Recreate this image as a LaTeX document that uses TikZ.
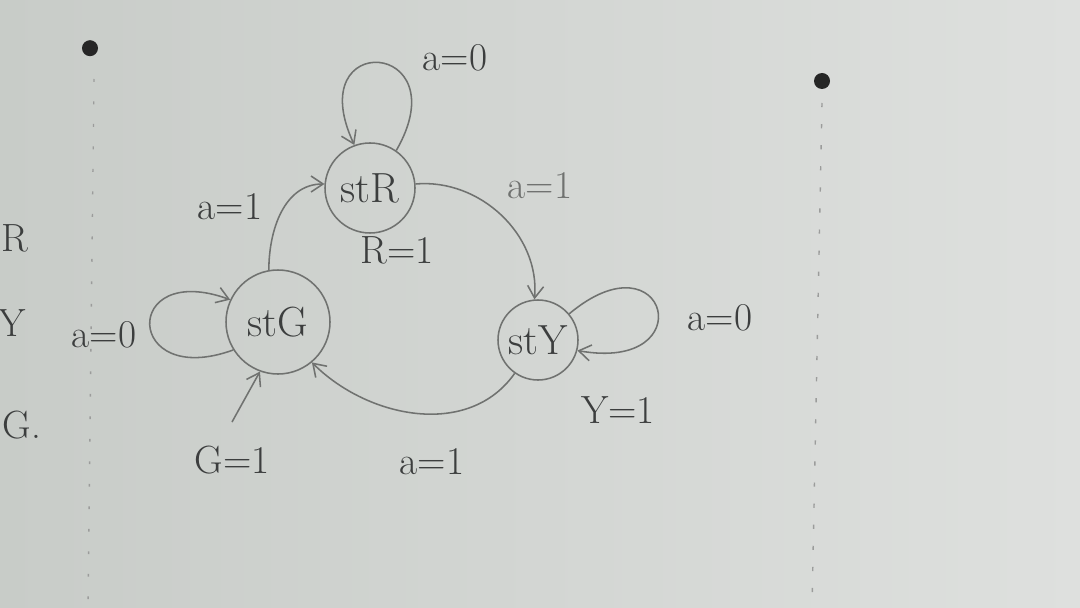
\documentclass[tikz,border=0pt]{standalone}
\usepackage{tikz}
\usetikzlibrary{arrows.meta}
\definecolor{board}{RGB}{200,204,200}
\definecolor{boardlight}{RGB}{222,224,222}
\definecolor{pen}{RGB}{112,114,112}
\definecolor{ink}{RGB}{60,62,62}
\tikzset{
	state/.style={circle, draw=pen, line width=1.1pt, text=ink, inner sep=0pt, font=\fontsize{30}{34}\selectfont},
	lbl/.style={text=ink, font=\fontsize{28}{32}\selectfont, inner sep=0pt},
	trans/.style={draw=pen, line width=1.1pt, -{Straight Barb[length=3mm,width=4mm]}}
}

\begin{document}
\begin{tikzpicture}
				\shade[left color=board, right color=boardlight] (0,0) rectangle (27,15.175);
				\useasboundingbox (0,0) rectangle (27,15.175);
				% marks on the board
				\fill[black!85] (2.25,13.97) circle (0.2);
				\fill[black!85] (20.55,13.15) circle (0.2);
				\draw[pen!70, line width=1pt, dash pattern=on 2pt off 14pt] (2.35,13.2) -- (2.2,0);
				\draw[pen!70, line width=1pt, dash pattern=on 3pt off 12pt] (20.55,12.6) -- (20.3,0);
				
				\node[state, minimum size=2.25cm] (stR) at (9.25,10.475) {stR};
				\node[state, minimum size=2.6cm] (stG) at (6.95,7.125) {stG};
				\node[state, minimum size=2.0cm] (stY) at (13.45,6.675) {stY};
				\coordinate (init) at (5.8,4.625);
				
				\draw[trans] (stR.55) .. controls +(60:3.2) and +(115:3.2) .. (stR.110);
				\draw[trans] (stR.5) to[out=5, in=85] (stY.95);
				\draw[trans] (stY.40) .. controls +(40:3.2) and +(-10:3.2) .. (stY.-15);
				\draw[trans] (stY.235) to[out=235, in=-45] (stG.-50);
				\draw[trans] (stG.100) to[out=90, in=180] (stR.175);
				\draw[trans] (stG.212) .. controls +(200:2.9) and +(160:2.9) .. (stG.155);
				\draw[trans] (init) -- (stG.-110);
				
				\node[lbl] (a0R) at (11.375,13.725) {a=0};
				\node[lbl, text=pen] (a1RY) at (13.5,10.525) {a=1};
				\node[lbl] (outR) at (9.925,8.925) {R=1};
				\node[lbl] (a1GR) at (5.75,10.0) {a=1};
				\node[lbl] (a0G) at (2.6,6.8) {a=0};
				\node[lbl] (a0Y) at (18.0,7.225) {a=0};
				\node[lbl] (outY) at (15.45,4.925) {Y=1};
				\node[lbl] (a1YG) at (10.8,3.625) {a=1};
				\node[lbl] (outG) at (5.8,3.675) {G=1};
				\node[lbl] (keyR) at (0.375,9.225) {R};
				\node[lbl] (keyY) at (0.3,7.1) {Y};
				\node[lbl] (keyG) at (0.55,4.55) {G.};
				
			\end{tikzpicture}
\end{document}
